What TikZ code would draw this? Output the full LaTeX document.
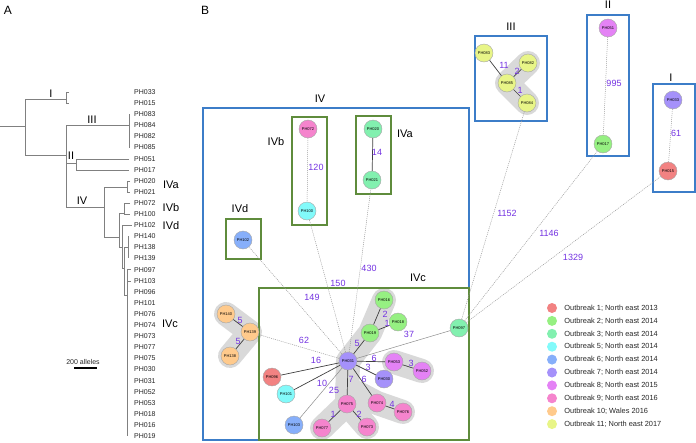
\documentclass[tikz,border=0pt]{standalone}
\usepackage{fontspec}
\setmainfont{Liberation Sans}
\usetikzlibrary{positioning,backgrounds}
\definecolor{o1}{RGB}{242,130,130}
\definecolor{o2}{RGB}{150,240,130}
\definecolor{o3}{RGB}{130,240,175}
\definecolor{o5}{RGB}{130,250,250}
\definecolor{o6}{RGB}{135,175,250}
\definecolor{o7}{RGB}{165,145,250}
\definecolor{o8}{RGB}{228,130,245}
\definecolor{o9}{RGB}{245,132,205}
\definecolor{o10}{RGB}{255,202,140}
\definecolor{o11}{RGB}{232,245,135}
\definecolor{distcol}{RGB}{115,50,225}
\definecolor{boxblue}{RGB}{60,125,200}
\definecolor{boxgreen}{RGB}{95,140,60}
\tikzset{
	pnode/.style={circle,draw=black!35,line width=0.4pt,minimum size=18pt,inner sep=0pt,font=\fontsize{4}{4}\selectfont},
	leaf/.style={anchor=west,inner sep=0pt,font=\fontsize{7}{8}\selectfont,text=black!85},
	branch/.style={black!50,line width=0.7pt},
	link/.style={draw=black!75,line width=0.7pt},
	thinlink/.style={draw=black!45,line width=0.5pt},
	far/.style={draw=black!40,line width=0.5pt,dash pattern=on 1pt off 1pt},
	dist/.style={text=distcol,inner sep=0pt,font=\fontsize{9}{10}\selectfont},
	ribbon/.style={draw=black!15,line width=24pt,line cap=round,line join=round},
	groupbox/.style={draw=boxblue,line width=1.5pt},
	clusterbox/.style={draw=boxgreen,line width=1.2pt},
	boxlab/.style={inner sep=0pt,font=\fontsize{11}{12}\selectfont},
	panel/.style={inner sep=0pt,font=\fontsize{12}{13}\selectfont},
	legdot/.style={circle,minimum size=10pt,inner sep=0pt},
	legtext/.style={inner sep=0pt,font=\fontsize{7.4}{8}\selectfont,text=black!85},
}
\begin{document}
\begin{tikzpicture}[x=1pt,y=-1pt]
	\useasboundingbox (0,0) rectangle (696,442);

	\node[panel] (pa) at (8,10) {A};
	\node[panel] (pb) at (205,10) {B};

	\foreach \lab [count=\i from 0] in {PH033,PH015,PH083,PH084,PH082,PH085,PH051,PH017,PH020,PH021,PH072,PH100,PH102,PH140,PH138,PH139,PH097,PH103,PH096,PH101,PH076,PH074,PH073,PH077,PH075,PH030,PH031,PH052,PH053,PH018,PH016,PH019}
		\node[leaf] (t\lab) at (134,92+11.1*\i) {\lab};

	\draw[branch] (0,126) -- (25,126);
	\draw[branch] (25,99) -- (25,155);
	\draw[branch] (25,99) -- (66,99);
	\draw[branch] (69,92) -- (66,92) -- (66,103) -- (69,103);
	\draw[branch] (25,155) -- (66,155);
	\draw[branch] (66,125) -- (66,207);
	\draw[branch] (66,125) -- (129,125);
	\draw[branch] (129,114) -- (129,148);
	\draw[branch] (66,163) -- (76,163);
	\draw[branch] (129,159) -- (76,159) -- (76,170) -- (129,170);
	\draw[branch] (66,207) -- (104,207);
	\draw[branch] (104,187) -- (104,237);
	\draw[branch] (104,187) -- (127,187);
	\draw[branch] (130,181) -- (127,181) -- (127,192) -- (130,192);
	\draw[branch] (104,237) -- (119,237);
	\draw[branch] (119,213) -- (119,247);
	\draw[branch] (119,213) -- (124,213);
	\draw[branch] (130,203) -- (124,203) -- (124,214) -- (130,214);
	\draw[branch] (119,247) -- (122,247);
	\draw[branch] (122,225) -- (122,268);
	\draw[branch] (122,225) -- (132,225);
	\draw[branch] (122,268) -- (124,268);
	\draw[branch] (124,247) -- (124,295);
	\draw[branch] (124,247) -- (128,247);
	\draw[branch] (128,236) -- (128,258);
	\draw[branch] (124,295) -- (127,295);
	\draw[branch] (127,269) -- (127,436);
	\draw[branch] (127,269) -- (131,269);
	\draw[branch] (127,281) -- (131,281);

	\node[boxlab] (tI) at (51,94) {I};
	\node[boxlab] (tIII) at (92,120) {III};
	\node[boxlab] (tII) at (71,156) {II};
	\node[boxlab] (tIV) at (82,201) {IV};
	\node[boxlab] (tIVa) at (171,185) {IVa};
	\node[boxlab] (tIVb) at (171,208) {IVb};
	\node[boxlab] (tIVd) at (171,226) {IVd};
	\node[boxlab] (tIVc) at (170,324) {IVc};

	\draw[black,line width=1.3pt] (74,368) -- (97,368);
	\node[leaf,anchor=center] (scale) at (83,362) {200 alleles};

	\draw[groupbox] (203,108) rectangle (469,440);
	\draw[groupbox] (475,36) rectangle (547,121);
	\draw[groupbox] (587,15) rectangle (629,156);
	\draw[groupbox] (653,84) rectangle (695,192);
	\draw[clusterbox] (292,117) rectangle (327,225);
	\draw[clusterbox] (356,116) rectangle (391,194);
	\draw[clusterbox] (226,219) rectangle (261,259);
	\draw[clusterbox] (259,288) rectangle (469,440);

	\node[boxlab] (lIV) at (320,99) {IV};
	\node[boxlab] (lIVa) at (405,134) {IVa};
	\node[boxlab] (lIVb) at (276,142) {IVb};
	\node[boxlab] (lIVd) at (240,209) {IVd};
	\node[boxlab] (lIVc) at (418,278) {IVc};
	\node[boxlab] (lIII) at (511,27) {III};
	\node[boxlab] (lII) at (608,5) {II};
	\node[boxlab] (lI) at (671,78) {I};

	\node[pnode,fill=o7] (n031) at (348,361) {PH031};
	\node[pnode,fill=o10] (n140) at (226,314) {PH140};
	\node[pnode,fill=o10] (n139) at (250,332) {PH139};
	\node[pnode,fill=o10] (n138) at (230,356) {PH138};
	\node[pnode,fill=o2] (n016) at (384,300) {PH016};
	\node[pnode,fill=o2] (n018) at (398,322) {PH018};
	\node[pnode,fill=o2] (n019) at (370,333) {PH019};
	\node[pnode,fill=o3] (n097) at (459,328) {PH097};
	\node[pnode,fill=o8] (n053) at (394,362) {PH053};
	\node[pnode,fill=o8] (n052) at (422,371) {PH052};
	\node[pnode,fill=o7] (n030) at (384,379) {PH030};
	\node[pnode,fill=o9] (n074) at (377,403) {PH074};
	\node[pnode,fill=o9] (n076) at (403,412) {PH076};
	\node[pnode,fill=o9] (n075) at (347,404) {PH075};
	\node[pnode,fill=o9] (n077) at (322,428) {PH077};
	\node[pnode,fill=o9] (n073) at (367,427) {PH073};
	\node[pnode,fill=o1] (n096) at (272,377) {PH096};
	\node[pnode,fill=o5] (n101) at (286,394) {PH101};
	\node[pnode,fill=o6] (n103) at (294,425) {PH103};
	\node[pnode,fill=o9] (n072) at (308,129) {PH072};
	\node[pnode,fill=o5] (n100) at (307,211) {PH100};
	\node[pnode,fill=o3] (n020) at (373,129) {PH020};
	\node[pnode,fill=o3] (n021) at (372,180) {PH021};
	\node[pnode,fill=o6] (n102) at (243,240) {PH102};
	\node[pnode,fill=o11] (n083) at (484,53) {PH083};
	\node[pnode,fill=o11] (n082) at (528,63) {PH082};
	\node[pnode,fill=o11] (n085) at (507,83) {PH085};
	\node[pnode,fill=o11] (n084) at (527,103) {PH084};
	\node[pnode,fill=o8] (n051) at (608,28) {PH051};
	\node[pnode,fill=o2] (n017) at (603,144) {PH017};
	\node[pnode,fill=o7] (n033) at (673,100) {PH033};
	\node[pnode,fill=o1] (n015) at (668,171) {PH015};

	\begin{pgfonlayer}{background}
		\draw[ribbon] (n140.center) -- (n139.center) -- (n138.center);
		\draw[ribbon] (n016.center) -- (n019.center) -- (n031.center) -- (n075.center) -- (n077.center);
		\draw[ribbon] (n075.center) -- (n073.center);
		\draw[ribbon] (n053.center) -- (n052.center);
		\draw[ribbon] (358,393) -- (n074.center) -- (n076.center);
		\draw[ribbon] (n082.center) -- (n085.center) -- (n084.center);
	\end{pgfonlayer}

	\draw[link] (n140) -- (n139);
	\draw[link] (n139) -- (n138);
	\draw[link] (n031) -- (n019);
	\draw[link] (n019) -- (n016);
	\draw[link] (n019) -- (n018);
	\draw[thinlink] (n031) -- (n097);
	\draw[link] (n031) -- (n053);
	\draw[link] (n053) -- (n052);
	\draw[link] (n031) -- (n030);
	\draw[link] (n031) -- (n074);
	\draw[link] (n074) -- (n076);
	\draw[link] (n031) -- (n075);
	\draw[link] (n075) -- (n077);
	\draw[link] (n075) -- (n073);
	\draw[link] (n031) -- (n096);
	\draw[link] (n031) -- (n101);
	\draw[thinlink] (n031) -- (n103);
	\draw[far] (n031) -- (n139);
	\draw[far] (n031) -- (n102);
	\draw[far] (n031) -- (n100);
	\draw[far] (n031) -- (n021);
	\draw[far] (n072) -- (n100);
	\draw[link] (n020) -- (n021);
	\draw[link] (n083) -- (n085);
	\draw[link] (n085) -- (n082);
	\draw[link] (n085) -- (n084);
	\draw[far] (n051) -- (n017);
	\draw[far] (n033) -- (n015);
	\draw[far] (n097) -- (n084);
	\draw[far] (n097) -- (n017);
	\draw[far] (n097) -- (n015);

	\foreach \x/\y/\v [count=\i] in {240/320/5,238/341/5,357/343/5,385/314/2,387/323/1,409/334/37,374/358/6,411/363/3,368/367/3,364/379/6,392/404/4,351/379/7,333/414/1,359/414/2,316/360/16,322/383/10,334/390/25,304/340/62,312/297/149,338/283/150,369/268/430,316/167/120,377/152/14,504/65/11,517/71/2,520/90/1,614/83/995,676/133/61,507/213/1152,549/233/1146,573/257/1329}
		\node[dist] (w\i) at (\x,\y) {\v};

	\foreach \c/\t [count=\i from 0] in {o1/{Outbreak 1; North east 2013},o2/{Outbreak 2; North east 2014},o3/{Outbreak 3; North east 2014},o5/{Outbreak 5; North east 2014},o6/{Outbreak 6; North east 2014},o7/{Outbreak 7; North east 2014},o8/{Outbreak 8; North east 2015},o9/{Outbreak 9; North east 2016},o10/{Outbreak 10; Wales 2016},o11/{Outbreak 11; North east 2017}}
	{
		\node[legdot,fill=\c] (k\i) at (552,308+12.9*\i) {};
		\node[legtext,right=7pt of k\i] (g\i) {\t};
	}
\end{tikzpicture}
\end{document}
